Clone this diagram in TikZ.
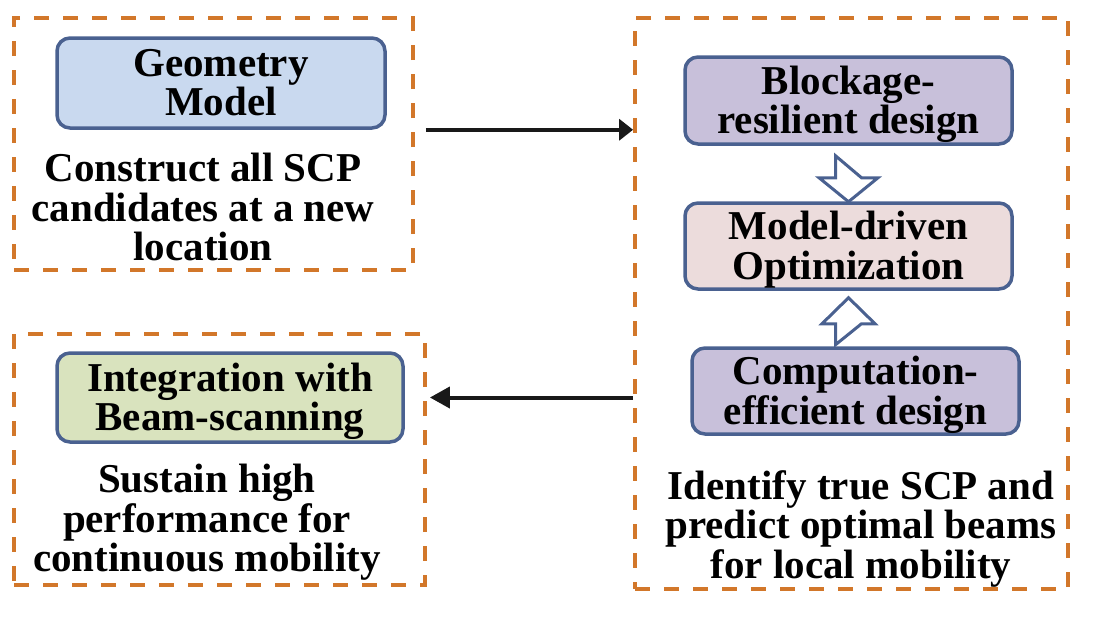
\documentclass[tikz,border=0pt]{standalone}
\usepackage{fontspec}
\setmainfont{Liberation Serif}
\usetikzlibrary{arrows.meta}

\definecolor{edgeblue}{HTML}{4A6190}
\definecolor{framecol}{HTML}{D2772A}
\definecolor{geofill}{HTML}{C9D9EF}
\definecolor{lavfill}{HTML}{C8C0DA}
\definecolor{pinkfill}{HTML}{ECDCDC}
\definecolor{greenfill}{HTML}{D9E3BE}

\tikzset{
    every node/.style={font=\fontsize{41}{39.5}\selectfont\bfseries},
    block/.style={draw=edgeblue, line width=3.5pt, rounded corners=13pt,
        align=center, inner sep=0pt, text depth=1pt},
    frame/.style={draw=framecol, line width=3.8pt, dash pattern=on 15pt off 14pt},
    note/.style={align=center, inner sep=0pt, anchor=north},
    flow/.style={-{Triangle[length=#1,width=21pt]}, line width=4pt, black!90},
    hollow/.style={draw=edgeblue, line width=3pt, fill=white, line join=miter}
}

\begin{document}
\begin{tikzpicture}[x=1pt, y=-1pt]
    \useasboundingbox (0,0) rectangle (1104,622);

    % Dashed frames
    \node[frame, minimum width=399, minimum height=252] (geoframe) at (213.5,144) {};
    \node[frame, minimum width=433, minimum height=571] (scpframe) at (851.5,303.5) {};
    \node[frame, minimum width=411, minimum height=251] (intframe) at (219.5,459.5) {};

    % Blocks
    \node[block, fill=geofill, minimum width=328, minimum height=90] (geo) at (221,83) {Geometry\\Model};
    \node[block, fill=lavfill, minimum width=327, minimum height=87] (block) at (848.5,100.5) {Blockage-\\resilient design};
    \node[block, fill=pinkfill, minimum width=327, minimum height=86] (model) at (848.5,246) {Model-driven\\Optimization};
    \node[block, fill=lavfill, minimum width=327, minimum height=86] (comp) at (855.5,391) {Computation-\\efficient design};
    \node[block, fill=greenfill, minimum width=346, minimum height=89] (integ) at (230,397.5) {Integration with\\Beam-scanning};

    % Descriptions
    \node[note] (buildtxt) at (203,153) {Construct all SCP\\candidates at a new\\location};
    \node[note] (findtxt) at (861,470) {Identify true SCP and\\predict optimal beams\\for local mobility};
    \node[note] (keeptxt) at (207,464) {Sustain high\\performance for\\continuous mobility};

    % Hollow arrows into the optimization block
    \draw[hollow] ([shift={(-13,10)}]block.south) -- ++(0,22) -- ++(-16.5,0)
        -- ++(29.5,24) -- ++(29.5,-24) -- ++(-16.5,0) -- cycle;
    \draw[hollow] ([shift={(-13,54)}]model.south) -- ++(0,-21) -- ++(-13.5,0)
        -- ++(26.5,-26) -- ++(26.5,26) -- ++(-13.5,0) -- cycle;

    % Flow between frames
    \draw[flow=14pt] ([xshift=11pt]geoframe.east |- geo.south) -- (scpframe.west |- geo.south);
    \draw[flow=20pt] (scpframe.west |- integ) -- ([xshift=3pt]intframe.east |- integ);
\end{tikzpicture}
\end{document}
